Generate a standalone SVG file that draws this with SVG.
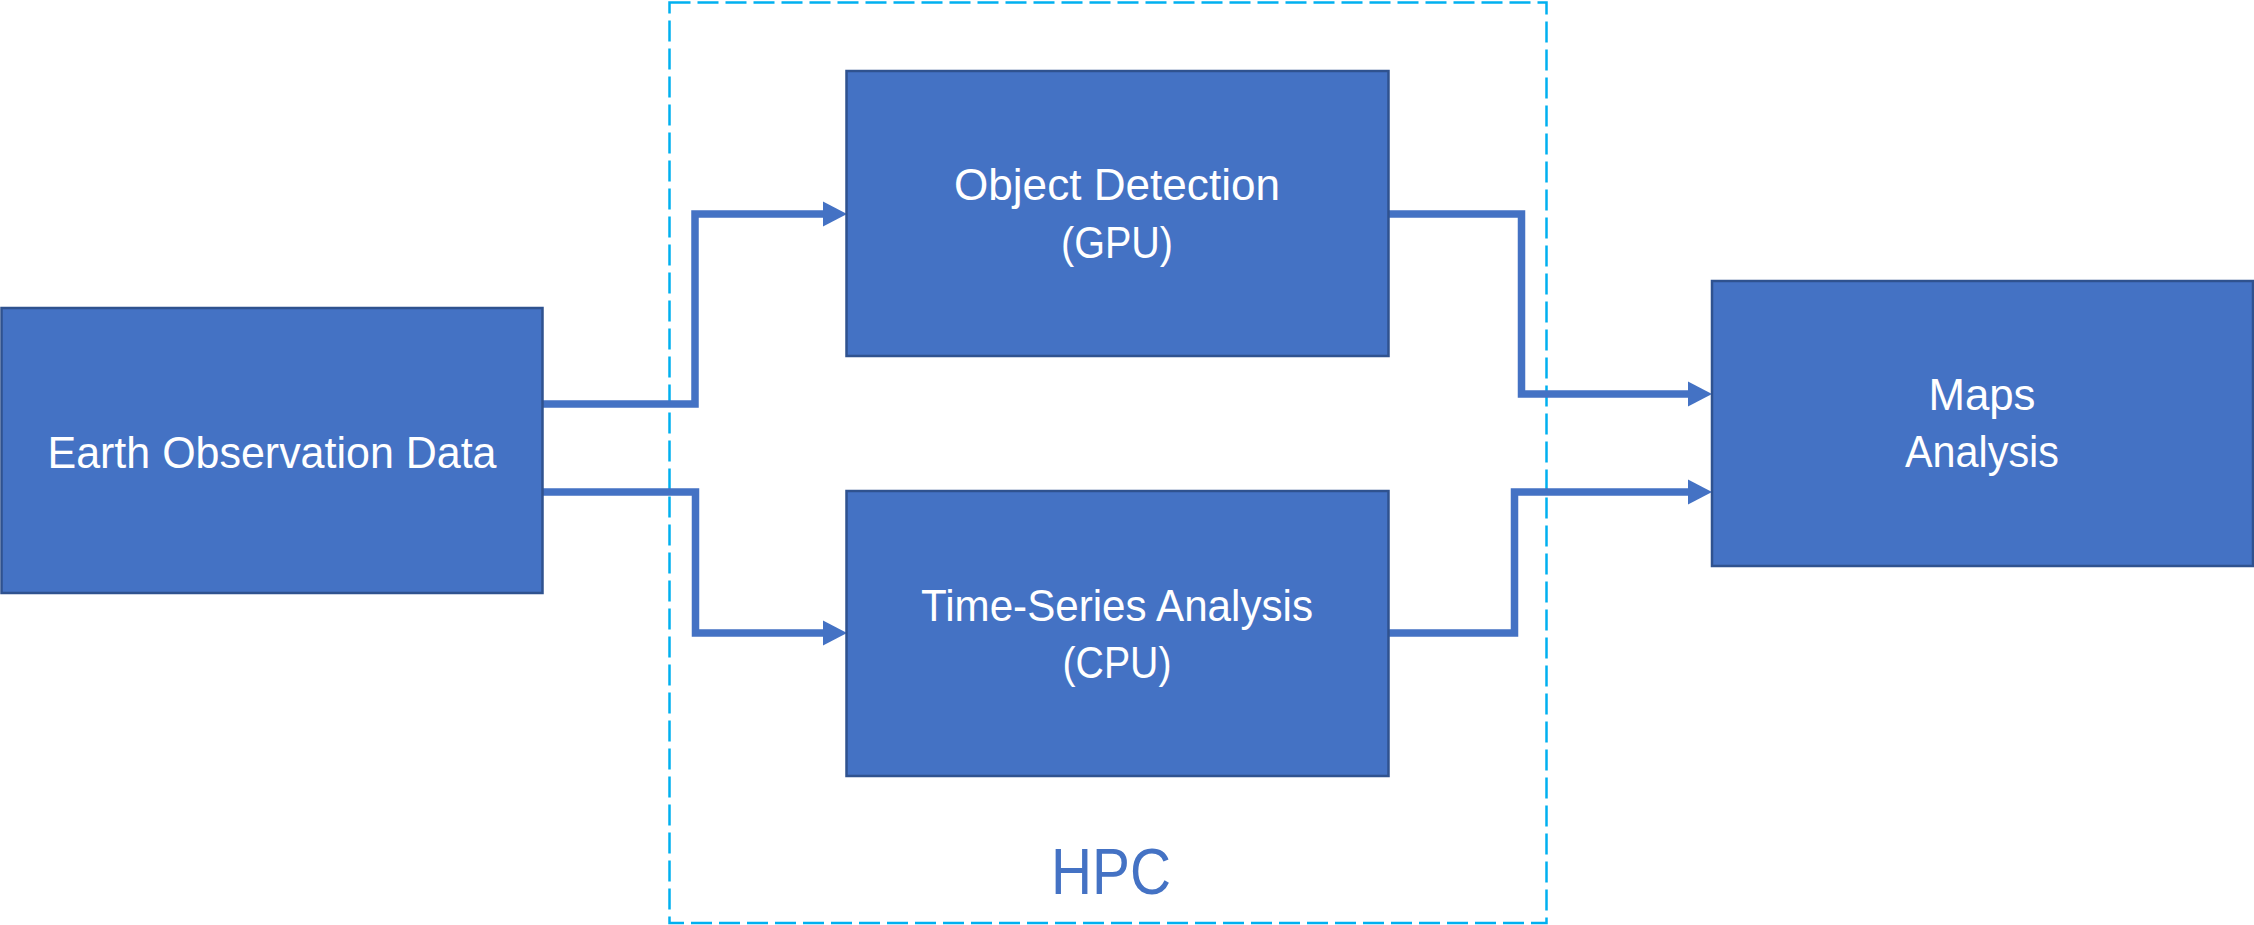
<svg xmlns="http://www.w3.org/2000/svg" width="2254" height="925" viewBox="0 0 2254 925">
  <style>
    .node { fill: #4472C4; stroke: #2F528F; stroke-width: 2.5; }
    .label { font-family: "Liberation Sans", Arial, sans-serif; font-size: 45px; fill: #FFFFFF; text-anchor: middle; }
    .conn { fill: none; stroke: #4472C4; stroke-width: 7.5; stroke-linejoin: miter; marker-end: url(#arrow); }
    .group-box { fill: none; stroke: #00B0F0; stroke-width: 2.5; stroke-dasharray: 21 7; }
    .group-label { font-family: "Liberation Sans", Arial, sans-serif; font-size: 65px; fill: #4472C4; text-anchor: middle; }
  </style>
  <defs>
    <marker id="arrow" markerUnits="userSpaceOnUse" markerWidth="24" markerHeight="25" viewBox="0 0 24 25" refX="0" refY="12.5" orient="auto" overflow="visible">
      <path d="M0,0 L24,12.5 L0,25 Z" fill="#4472C4"/>
    </marker>
  </defs>
  <rect width="2254" height="925" fill="#FFFFFF"/>

  <g id="hpc">
    <rect class="group-box" x="669.5" y="2.5" width="877" height="920.5"/>
    <text class="group-label" x="1111" y="894" textLength="120" lengthAdjust="spacingAndGlyphs">HPC</text>
  </g>

  <g id="connectors">
    <path class="conn" d="M542,404 H695 V214 H823"/>
    <path class="conn" d="M542,492 H695.5 V633 H823"/>
    <path class="conn" d="M1388,214 H1521.5 V394 H1688"/>
    <path class="conn" d="M1388,633 H1514.5 V492 H1688"/>
  </g>

  <g id="earth-observation-data">
    <rect class="node" x="1.5" y="308" width="541" height="285"/>
    <text class="label" x="272" y="468" textLength="449" lengthAdjust="spacingAndGlyphs">Earth Observation Data</text>
  </g>

  <g id="object-detection">
    <rect class="node" x="846.5" y="71" width="542" height="285"/>
    <text class="label" x="1117" y="200" textLength="326" lengthAdjust="spacingAndGlyphs">Object Detection</text>
    <text class="label" x="1117" y="258" textLength="112" lengthAdjust="spacingAndGlyphs">(GPU)</text>
  </g>

  <g id="time-series-analysis">
    <rect class="node" x="846.5" y="491" width="542" height="285"/>
    <text class="label" x="1117" y="621" textLength="392" lengthAdjust="spacingAndGlyphs">Time-Series Analysis</text>
    <text class="label" x="1117" y="678" textLength="109" lengthAdjust="spacingAndGlyphs">(CPU)</text>
  </g>

  <g id="maps-analysis">
    <rect class="node" x="1712" y="281" width="541" height="285"/>
    <text class="label" x="1982" y="410" textLength="107" lengthAdjust="spacingAndGlyphs">Maps</text>
    <text class="label" x="1982" y="467" textLength="154" lengthAdjust="spacingAndGlyphs">Analysis</text>
  </g>
</svg>
